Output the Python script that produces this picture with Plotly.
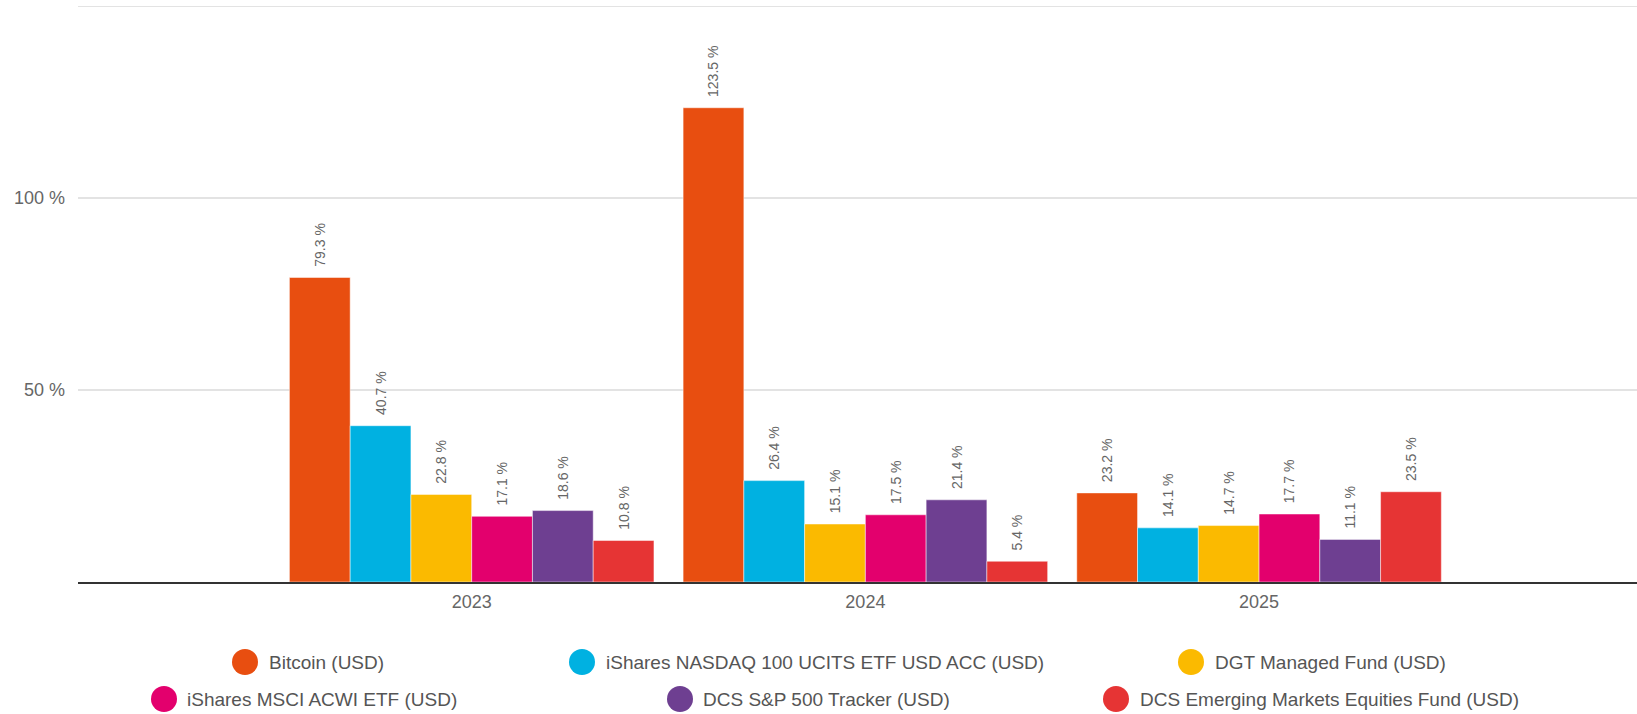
import plotly.graph_objects as go

# ---- data ----
years = ["2023", "2024", "2025"]
series_names = [
    "Bitcoin (USD)",
    "iShares NASDAQ 100 UCITS ETF USD ACC (USD)",
    "DGT Managed Fund (USD)",
    "iShares MSCI ACWI ETF (USD)",
    "DCS S&P 500 Tracker (USD)",
    "DCS Emerging Markets Equities Fund (USD)",
]
bitcoin = [79.3, 123.5, 23.2]
nasdaq = [40.7, 26.4, 14.1]
dgt = [22.8, 15.1, 14.7]
msci = [17.1, 17.5, 17.7]
sp500 = [18.6, 21.4, 11.1]
em = [10.8, 5.4, 23.5]
y_tick_values = [0, 50, 100, 150]
y_tick_labels = ["", "50 %", "100 %", ""]

# ---- styles ----
colors = ["#E84E10", "#00B1E1", "#FBBA00", "#E3006D", "#6E3F91", "#E63434"]
FONT = "Arial, 'Liberation Sans', sans-serif"
W, H = 1637, 714
ML, MR, MT, MB = 78, 0, 6, 132

values = [bitcoin, nasdaq, dgt, msci, sp500, em]

fig = go.Figure()
for name, vals, col in zip(series_names, values, colors):
    fig.add_trace(go.Bar(
        x=years, y=vals, name=name,
        marker=dict(color=col, line=dict(color="rgba(255,255,255,0.6)", width=0.8)),
        texttemplate="\u00a0\u00a0%{y:.1f} %",
        textposition="outside",
        textangle=-90,
        constraintext="none",
        cliponaxis=False,
        textfont=dict(family=FONT, size=14, color="#666666"),
        showlegend=False,
        hoverinfo="skip",
    ))

# top gridline (at the range edge plotly omits it)
fig.add_shape(type="line", xref="paper", yref="y", x0=0, x1=1,
              y0=y_tick_values[-1], y1=y_tick_values[-1],
              line=dict(color="#e3e3e3", width=2), layer="below")

# ---- manual centered legend (paper coords) ----
plot_w = W - ML - MR
plot_h = H - MT - MB
def px_to_paper_x(px):
    return (px - ML) / plot_w
def px_to_paper_y(py):
    return (H - MB - py) / plot_h

legend_layout = [
    # (circle x px, text x px, y px)
    (245, 268, 662),
    (582, 605, 662),
    (1191, 1214, 662),
    (164, 186, 699),
    (680, 702, 699),
    (1116, 1139, 699),
]
r = 13
for (cx, tx, cy), name, col in zip(legend_layout, series_names, colors):
    fig.add_shape(
        type="circle", xref="paper", yref="paper",
        xsizemode="pixel", ysizemode="pixel",
        xanchor=px_to_paper_x(cx), yanchor=px_to_paper_y(cy),
        x0=-r, x1=r, y0=-r, y1=r,
        fillcolor=col, line=dict(width=0),
    )
    fig.add_annotation(
        xref="paper", yref="paper",
        x=px_to_paper_x(tx), y=px_to_paper_y(cy),
        xanchor="left", yanchor="middle",
        text=name, showarrow=False,
        font=dict(family=FONT, size=19, color="#555555"),
        borderpad=0,
    )

fig.update_layout(
    width=W, height=H,
    margin=dict(l=ML, r=MR, t=MT, b=MB, pad=0),
    paper_bgcolor="white", plot_bgcolor="white",
    barmode="group", bargap=0.074, bargroupgap=0,
    font=dict(family=FONT, color="#666666"),
    xaxis=dict(
        type="category", range=[-1, 2.96],
        showgrid=False, zeroline=False,
        showline=True, linecolor="#333333", linewidth=2,
        ticks="", tickfont=dict(family=FONT, size=18, color="#666666"),
        ticklabelstandoff=2,
        fixedrange=True,
    ),
    yaxis=dict(
        range=[0, 150],
        tickvals=y_tick_values, ticktext=y_tick_labels,
        showgrid=True, gridcolor="#e3e3e3", gridwidth=2,
        zeroline=False, showline=False,
        ticks="", tickfont=dict(family=FONT, size=18, color="#666666"),
        ticklabelstandoff=12,
        fixedrange=True,
    ),
)

fig.write_html(
    "out.html",
    config={"displayModeBar": False},
    post_script="document.body.style.margin='0';document.body.style.overflow='hidden';",
)
